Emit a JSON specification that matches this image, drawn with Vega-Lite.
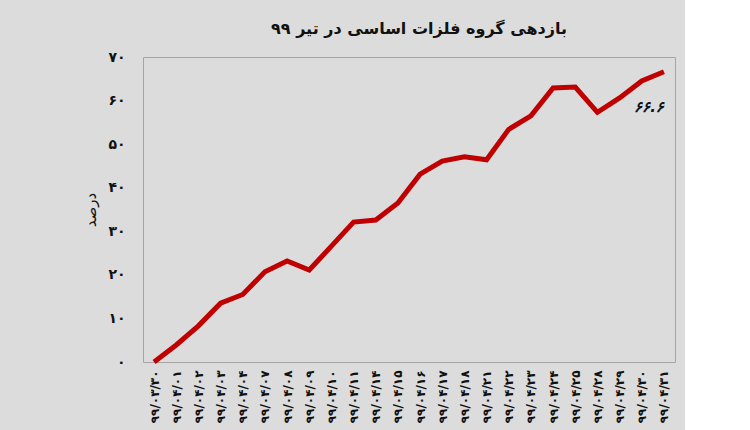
{
  "$schema": "https://vega.github.io/schema/vega-lite/v6.json",
  "autosize": {"type": "none"},
  "width": 532,
  "height": 305,
  "padding": {"left": 143, "top": 57, "right": 10, "bottom": 68},
  "background": "#dcdcdc",
  "config": {
    "font": "DejaVu Sans",
    "view": {"stroke": "#a6a6a6", "strokeWidth": 1, "fill": "#dcdcdc"}
  },
  "title": {
    "text": "بازدهی گروه فلزات اساسی در تیر ۹۹",
    "fontSize": 16,
    "fontWeight": "bold",
    "color": "#111111",
    "anchor": "middle",
    "offset": 13,
    "dx": 10
  },
  "data": {
    "values": [
      {"date": "۹۹/۰۳/۳۰", "value": 0},
      {"date": "۹۹/۰۴/۰۱", "value": 3.9},
      {"date": "۹۹/۰۴/۰۲", "value": 8.3},
      {"date": "۹۹/۰۴/۰۳", "value": 13.5},
      {"date": "۹۹/۰۴/۰۴", "value": 15.5},
      {"date": "۹۹/۰۴/۰۷", "value": 20.7},
      {"date": "۹۹/۰۴/۰۸", "value": 23.2},
      {"date": "۹۹/۰۴/۰۹", "value": 21.1},
      {"date": "۹۹/۰۴/۱۰", "value": 26.6},
      {"date": "۹۹/۰۴/۱۱", "value": 32.1},
      {"date": "۹۹/۰۴/۱۴", "value": 32.6},
      {"date": "۹۹/۰۴/۱۵", "value": 36.5},
      {"date": "۹۹/۰۴/۱۶", "value": 43.1},
      {"date": "۹۹/۰۴/۱۷", "value": 46.1},
      {"date": "۹۹/۰۴/۱۸", "value": 47.1},
      {"date": "۹۹/۰۴/۲۱", "value": 46.4},
      {"date": "۹۹/۰۴/۲۲", "value": 53.4},
      {"date": "۹۹/۰۴/۲۳", "value": 56.5},
      {"date": "۹۹/۰۴/۲۴", "value": 62.9},
      {"date": "۹۹/۰۴/۲۵", "value": 63.1},
      {"date": "۹۹/۰۴/۲۸", "value": 57.3},
      {"date": "۹۹/۰۴/۲۹", "value": 60.6},
      {"date": "۹۹/۰۴/۳۰", "value": 64.5},
      {"date": "۹۹/۰۴/۳۱", "value": 66.6, "label": "۶۶.۶"}
    ]
  },
  "encoding": {
    "x": {
      "field": "date",
      "type": "ordinal",
      "sort": null,
      "scale": {"type": "point", "padding": 0.5},
      "axis": {
        "title": null,
        "labelAngle": -90,
        "labelFontSize": 12,
        "labelFontWeight": "bold",
        "labelColor": "#111111",
        "labelPadding": 8,
        "ticks": false,
        "domain": false
      }
    },
    "y": {
      "field": "value",
      "type": "quantitative",
      "scale": {"domain": [0, 70], "nice": false},
      "axis": {
        "title": "درصد",
        "titleFontSize": 15,
        "titleFontWeight": "normal",
        "titleColor": "#111111",
        "titlePadding": 9,
        "values": [0, 10, 20, 30, 40, 50, 60, 70],
        "labelExpr": "['۰','۱۰','۲۰','۳۰','۴۰','۵۰','۶۰','۷۰'][round(datum.value/10)]",
        "labelFontSize": 14,
        "labelFontWeight": "bold",
        "labelColor": "#111111",
        "labelPadding": 18,
        "ticks": false,
        "domain": false,
        "grid": false
      }
    }
  },
  "layer": [
    {
      "mark": {"type": "line", "color": "#c00000", "strokeWidth": 5}
    },
    {
      "transform": [{"filter": "datum.label"}],
      "mark": {
        "type": "text",
        "align": "right",
        "baseline": "middle",
        "dy": 35,
        "fontSize": 15,
        "fontWeight": "bold",
        "fontStyle": "italic",
        "color": "#111111"
      },
      "encoding": {"text": {"field": "label"}}
    }
  ]
}
